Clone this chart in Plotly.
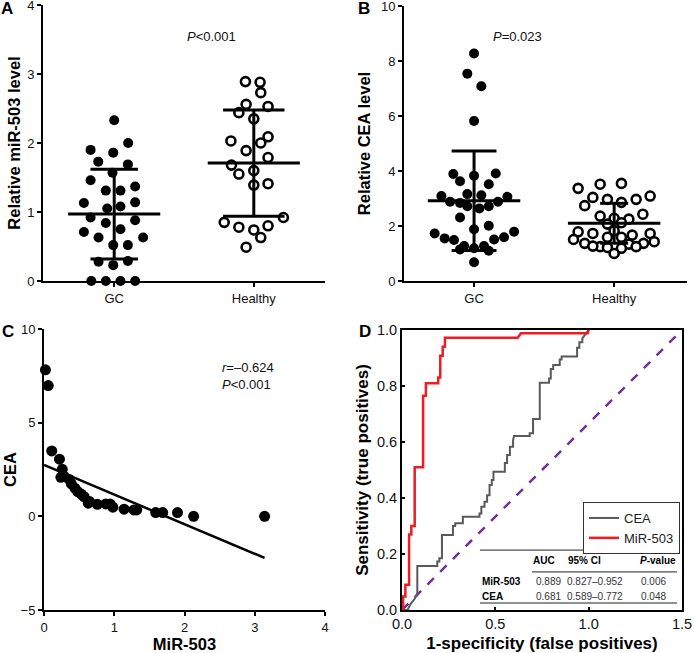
import plotly.graph_objects as go

W, H = 694, 653
FONT = "Arial, Liberation Sans, sans-serif"

# ---------------- Panel A: relative miR-503 level ----------------
groups = ["GC", "Healthy"]
a_gc_vals = [2.33, 2.00, 1.90, 1.86, 1.73, 1.69, 1.57, 1.46, 1.37, 1.31, 1.31,
             1.13, 1.14, 1.05, 1.08, 0.92, 0.88, 0.84, 0.75, 0.71, 0.63, 0.63,
             0.52, 0.52, 0.28, 0.29, 0.23, 0.0, 0.0, 0.0, 0.0]
a_gc_jit = [0.0, 0.10, -0.169, -0.007, -0.114, 0.098, -0.012, -0.169, 0.15, -0.06, 0.045,
            -0.217, 0.15, -0.05, 0.045, -0.169, 0.15, -0.06, 0.045, -0.217, -0.112, 0.207,
            -0.007, 0.098, -0.112, 0.098, -0.007, -0.164, -0.06, 0.045, 0.15]
a_h_vals = [2.89, 2.88, 2.73, 2.56, 2.53, 2.44, 2.35, 2.09, 2.03, 2.00, 1.89, 1.79,
            1.68, 1.60, 1.55, 1.39, 1.41, 0.92, 0.85, 0.78, 0.74, 0.80, 0.63, 0.49]
a_h_jit = [-0.06, 0.045, 0.05, -0.055, 0.102, -0.107, 0.0, 0.102, -0.164, 0.05, -0.055, 0.102,
           -0.16, 0.0, -0.107, 0.0, 0.102, 0.212, -0.212, -0.107, 0.0, 0.102, 0.05, -0.055]
a_means = [0.97, 1.71]
a_sds = [0.65, 0.77]
a_caps = [0.17, 0.22]
a_ptext = "<i>P</i>&lt;0.001"

# ---------------- Panel B: relative CEA level ----------------
b_gc_vals = [8.27, 7.54, 7.08, 5.82, 3.89, 3.83, 3.91, 3.63, 3.52, 3.09, 3.16, 3.12, 3.06,
             2.88, 2.84, 2.72, 2.64, 2.72, 2.88, 2.31, 2.01, 1.88, 1.73, 1.79, 1.55, 1.49,
             1.51, 1.59, 1.27, 1.27, 1.15, 1.19, 1.10, 0.68]
b_gc_jit = [0.0, -0.048, 0.052, 0.0, -0.148, 0.0, 0.155, -0.10, 0.105, -0.233, -0.048, 0.052, 0.238,
            -0.171, -0.10, -0.048, 0.038, 0.105, 0.171, -0.10, 0.105, 0.0, -0.281, 0.286, -0.21, -0.143,
            0.143, 0.214, -0.071, 0.071, -0.10, 0.0, 0.105, 0.0]
b_h_vals = [3.52, 3.55, 3.37, 3.09, 3.04, 2.97, 2.97, 2.74, 2.86, 2.43, 2.36, 2.28, 2.25,
            2.07, 2.12, 1.79, 1.73, 1.83, 1.67, 1.73, 1.59, 1.59, 1.51, 1.37, 1.25, 1.34,
            1.37, 1.43, 1.27, 1.22, 1.19, 1.25, 1.00]
b_h_jit = [-0.10, 0.052, -0.257, 0.257, -0.152, -0.048, 0.157, -0.21, 0.052, 0.205, -0.10, 0.0, 0.105,
           -0.048, 0.052, -0.257, -0.152, 0.0, 0.129, 0.257, -0.048, 0.052, -0.29, -0.21, -0.10, 0.105,
           0.21, 0.286, -0.152, -0.048, 0.052, 0.157, 0.0]
b_means = [2.92, 2.10]
b_sds = [1.81, 0.725]
b_caps = [0.16, 0.10]
b_ptext = "<i>P</i>=0.023"

# ---------------- Panel C: correlation ----------------
c_mir = [0.02, 0.06, 0.11, 0.22, 0.26, 0.24, 0.29, 0.36, 0.39, 0.44, 0.48, 0.53, 0.57,
         0.63, 0.65, 0.76, 0.88, 0.94, 0.98, 1.14, 1.28, 1.32, 1.59, 1.69, 1.90, 2.13, 3.14]
c_cea = [7.82, 6.98, 3.49, 3.05, 2.51, 2.08, 2.12, 1.97, 1.73, 1.50, 1.32, 1.19, 1.05,
         0.70, 0.79, 0.64, 0.66, 0.66, 0.49, 0.38, 0.34, 0.34, 0.20, 0.20, 0.20, 0.0, 0.0]
c_fit_intercept = 2.74
c_fit_slope = -1.58
c_rtext = "<i>r</i>=–0.624<br><i>P</i>&lt;0.001"

# ---------------- Panel D: ROC curves ----------------
roc_mir_fpr = [0, 0.006, 0.006, 0.018, 0.018, 0.038, 0.038, 0.05, 0.05, 0.068, 0.068, 0.113, 0.113,
               0.128, 0.128, 0.194, 0.194, 0.205, 0.205, 0.218, 0.218, 0.23, 0.23, 0.62, 0.637, 0.995, 1.0]
roc_mir_tpr = [0, 0, 0.048, 0.048, 0.09, 0.09, 0.27, 0.27, 0.30, 0.30, 0.51, 0.51, 0.765,
               0.765, 0.81, 0.81, 0.83, 0.83, 0.908, 0.908, 0.94, 0.94, 0.972, 0.972, 0.988, 0.988, 1.0]
roc_cea_fpr = [0, 0.03, 0.045, 0.068, 0.082, 0.082, 0.189, 0.189, 0.2, 0.2, 0.214, 0.214, 0.273, 0.273,
               0.285, 0.285, 0.326, 0.326, 0.415, 0.415, 0.425, 0.425, 0.442, 0.442, 0.456, 0.456,
               0.469, 0.469, 0.481, 0.481, 0.49, 0.49, 0.551, 0.551, 0.563, 0.563, 0.578, 0.578,
               0.595, 0.595, 0.6, 0.684, 0.684, 0.702, 0.702, 0.738, 0.738, 0.788, 0.788, 0.797,
               0.797, 0.81, 0.81, 0.845, 0.845, 0.855, 0.855, 0.938, 0.938, 0.95, 0.95, 0.966, 0.966, 1.0]
roc_cea_tpr = [0, 0, 0.02, 0.04, 0.06, 0.157, 0.157, 0.173, 0.173, 0.185, 0.185, 0.268, 0.268, 0.30,
               0.30, 0.31, 0.31, 0.333, 0.333, 0.345, 0.345, 0.369, 0.369, 0.387, 0.387, 0.41,
               0.41, 0.446, 0.446, 0.464, 0.464, 0.494, 0.494, 0.525, 0.525, 0.554, 0.554, 0.583,
               0.583, 0.607, 0.621, 0.621, 0.631, 0.631, 0.682, 0.682, 0.812, 0.812, 0.827, 0.827,
               0.861, 0.861, 0.875, 0.875, 0.895, 0.895, 0.905, 0.905, 0.937, 0.937, 0.956, 0.956, 0.97, 1.0]
diag_x = [0, 1.5]
diag_y = [0, 1.0]
tbl_header = ["AUC", "95% CI", "<i>P</i>-value"]
tbl_rows = ["MiR-503", "CEA"]
tbl_auc = ["0.889", "0.681"]
tbl_ci = ["0.827–0.952", "0.589–0.772"]
tbl_p = ["0.006", "0.048"]

fig = go.Figure()


def add_dotplot(xa, ya, vals_list, jit_list, means, sds, caps):
    for gi, (vals, jit) in enumerate(zip(vals_list, jit_list)):
        if gi == 0:
            marker = dict(color="black", size=10, line=dict(width=0))
        else:
            marker = dict(color="white", size=9, line=dict(color="black", width=2.6))
        fig.add_trace(go.Scatter(x=[gi + j for j in jit], y=vals, mode="markers", marker=marker,
                                 xaxis=xa, yaxis=ya, showlegend=False, cliponaxis=False,
                                 hoverinfo="y"))
    for gi in range(len(means)):
        m, s, c = means[gi], sds[gi], caps[gi]
        xs = [gi - 0.33, gi + 0.33, None, gi, gi, None, gi - c, gi + c, None, gi - c, gi + c]
        ys = [m, m, None, m - s, m + s, None, m + s, m + s, None, m - s, m - s]
        fig.add_trace(go.Scatter(x=xs, y=ys, mode="lines", line=dict(color="black", width=3),
                                 xaxis=xa, yaxis=ya, showlegend=False, cliponaxis=False,
                                 hoverinfo="skip"))


add_dotplot("x", "y", [a_gc_vals, a_h_vals], [a_gc_jit, a_h_jit], a_means, a_sds, a_caps)
add_dotplot("x2", "y2", [b_gc_vals, b_h_vals], [b_gc_jit, b_h_jit], b_means, b_sds, b_caps)

# Panel C
fig.add_trace(go.Scatter(x=c_mir, y=c_cea, mode="markers", marker=dict(color="black", size=11),
                         xaxis="x3", yaxis="y3", showlegend=False, cliponaxis=False))
fit_x = [0, max(c_mir)]
fit_y = [c_fit_intercept + c_fit_slope * v for v in fit_x]
fig.add_trace(go.Scatter(x=fit_x, y=fit_y, mode="lines", line=dict(color="black", width=2.5),
                         xaxis="x3", yaxis="y3", showlegend=False))

# Panel D
fig.add_trace(go.Scatter(x=diag_x, y=diag_y, mode="lines",
                         line=dict(color="#7030a0", width=2.5, dash="dash"),
                         xaxis="x4", yaxis="y4", showlegend=False, hoverinfo="skip"))
fig.add_trace(go.Scatter(x=roc_cea_fpr, y=roc_cea_tpr, mode="lines", name="CEA",
                         line=dict(color="#595959", width=2), xaxis="x4", yaxis="y4"))
fig.add_trace(go.Scatter(x=roc_mir_fpr, y=roc_mir_tpr, mode="lines", name="MiR-503",
                         line=dict(color="#ee1c24", width=2.5), xaxis="x4", yaxis="y4"))


def px(x):
    return x / W


def py(y):
    return 1 - y / H


tickfont = dict(family=FONT, size=13, color="#111")
titlefont = dict(family=FONT, size=16.5, color="black")
base_axis = dict(showgrid=False, zeroline=False, showline=True, linecolor="black", linewidth=2,
                 ticks="outside", ticklen=4, tickwidth=2, tickcolor="black", tickfont=tickfont,
                 layer="below traces", automargin=False, ticklabeloverflow="allow")

fig.update_layout(
    width=W, height=H, margin=dict(l=0, r=0, t=0, b=0, autoexpand=False),
    paper_bgcolor="white", plot_bgcolor="white",
    font=dict(family=FONT, color="black"),
    xaxis=dict(base_axis, domain=[px(43), px(325)], range=[-0.51, 1.51], tickvals=[0, 1],
               ticktext=groups, anchor="y"),
    yaxis=dict(base_axis, domain=[py(281), py(5)], range=[0, 4], dtick=1, anchor="x",
               title=dict(text="<b>Relative miR-503 level</b>", font=titlefont, standoff=2)),
    xaxis2=dict(base_axis, domain=[px(404), px(687)], range=[-0.5, 1.52], tickvals=[0, 1],
                ticktext=groups, anchor="y2"),
    yaxis2=dict(base_axis, domain=[py(281), py(6)], range=[0, 10], dtick=2, anchor="x2",
                title=dict(text="<b>Relative CEA level</b>", font=titlefont, standoff=6)),
    xaxis3=dict(base_axis, domain=[px(44), px(325)], range=[0, 4], dtick=1, anchor="y3",
                title=dict(text="<b>MiR-503</b>", font=titlefont, standoff=4)),
    yaxis3=dict(base_axis, domain=[py(610), py(329)], range=[-5, 10], dtick=5, anchor="x3",
                title=dict(text="<b>CEA</b>", font=titlefont, standoff=0)),
    xaxis4=dict(base_axis, domain=[px(402), px(682)], range=[0, 1.5], dtick=0.5, tickformat=".1f",
                anchor="y4", mirror=True, ticks="inside", ticklen=3,
                tickfont=dict(family=FONT, size=14.5, color="#111"),
                title=dict(text="<b>1-specificity (false positives)</b>",
                           font=dict(family=FONT, size=17, color="black"), standoff=6)),
    yaxis4=dict(base_axis, domain=[py(610), py(330)], range=[0, 1], dtick=0.2, tickformat=".1f",
                anchor="x4", mirror=True, ticks="inside", ticklen=3,
                tickfont=dict(family=FONT, size=14.5, color="#111"),
                title=dict(text="<b>Sensitivity (true positives)</b>",
                           font=dict(family=FONT, size=17, color="black"), standoff=4)),
    legend=dict(x=px(680), xanchor="right", y=py(502), yanchor="top",
                bordercolor="#333", borderwidth=1, bgcolor="white",
                font=dict(family=FONT, size=13, color="#222"),
                itemwidth=30, tracegroupgap=0),
)

annos = []
# panel letters
for letter, (x0, y0) in zip("ABCD", [(7, 9), (364, 9), (8, 331), (365, 331)]):
    annos.append(dict(text=f"<b>{letter}</b>", x=px(x0), y=py(y0), xref="paper", yref="paper",
                      showarrow=False, xanchor="center", yanchor="middle",
                      font=dict(family=FONT, size=17, color="black")))
annos.append(dict(text=a_ptext, x=px(185), y=py(27), xref="paper", yref="paper", showarrow=False,
                  font=dict(family=FONT, size=13, color="#111")))
annos.append(dict(text=b_ptext, x=px(544), y=py(27), xref="paper", yref="paper", showarrow=False,
                  font=dict(family=FONT, size=13, color="#111")))
annos.append(dict(text=c_rtext, x=px(220), y=py(376), xref="paper", yref="paper", showarrow=False,
                  xanchor="left", yanchor="middle", align="left",
                  font=dict(family=FONT, size=13, color="#111")))

# ROC table
tfont = dict(family=FONT, size=10, color="#333")
bfont = dict(family=FONT, size=10, color="black")
for txt, xc in zip(tbl_header, [0.759, 0.976, 1.37]):
    annos.append(dict(text=f"<b>{txt}</b>", x=xc, y=0.176, xref="x4", yref="y4", showarrow=False,
                      xanchor="center", yanchor="middle", font=bfont))
for ri, yy in enumerate([0.101, 0.05]):
    annos.append(dict(text=f"<b>{tbl_rows[ri]}</b>", x=0.419, y=yy, xref="x4", yref="y4",
                      showarrow=False, xanchor="left", yanchor="middle", font=bfont))
    for txt, xc in zip([tbl_auc[ri], tbl_ci[ri], tbl_p[ri]], [0.786, 1.035, 1.348]):
        annos.append(dict(text=txt, x=xc, y=yy, xref="x4", yref="y4", showarrow=False,
                          xanchor="center", yanchor="middle", font=tfont))
fig.update_layout(annotations=annos)

shapes = []
for (x0, x1, yy) in [(0.418, 1.473, 0.214), (0.696, 1.473, 0.136), (0.418, 1.473, 0.025)]:
    shapes.append(dict(type="line", xref="x4", yref="y4", x0=x0, x1=x1, y0=yy, y1=yy,
                       line=dict(color="#222", width=1)))
fig.update_layout(shapes=shapes)

# the page body gets no default margin so the 694x653 figure fills the window exactly
fig.write_html("out.html", config={"displayModeBar": False},
               post_script="document.body.style.margin='0';document.body.style.overflow='hidden';")
